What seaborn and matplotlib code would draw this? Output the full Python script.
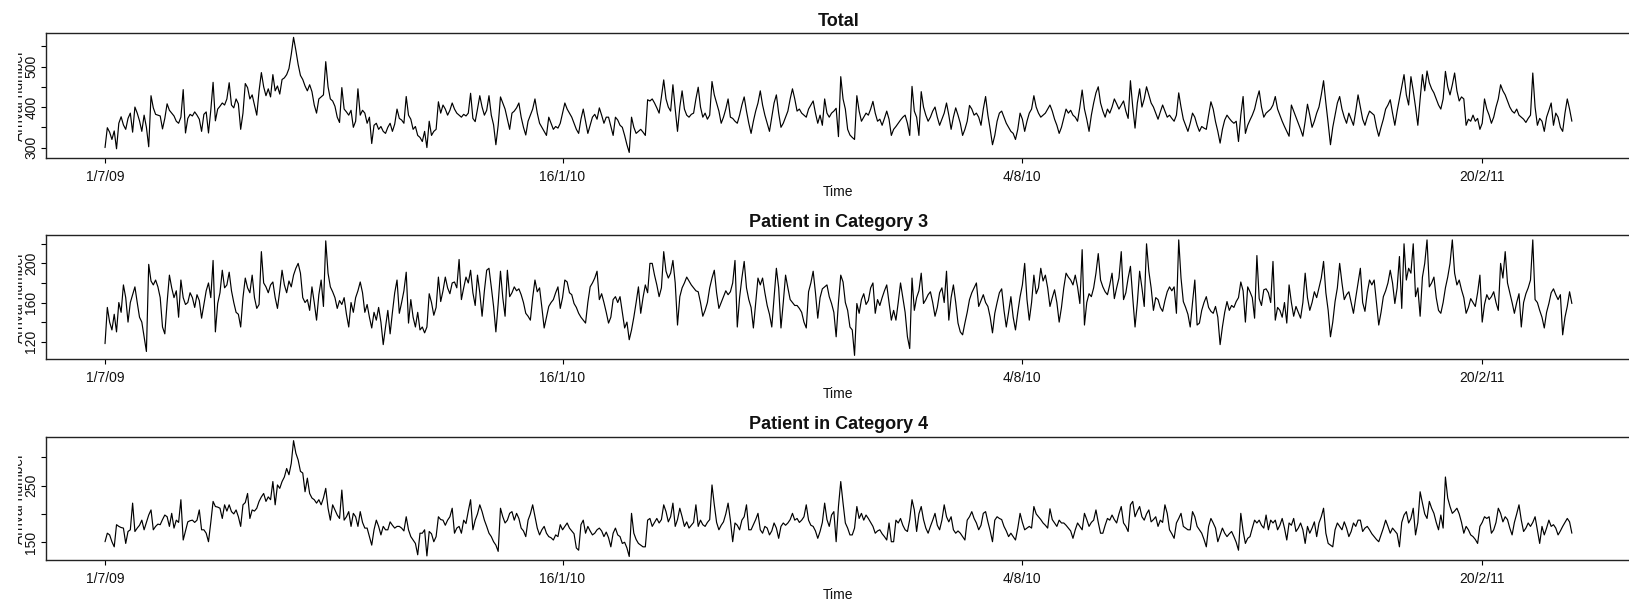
import numpy as np
import pandas as pd
import matplotlib
matplotlib.use("Agg")
import matplotlib.pyplot as plt
import matplotlib.dates as mdates
from matplotlib.transforms import Bbox, TransformedBbox
import seaborn as sns

start_date = "2009-07-01"

total = [
    300, 349, 338, 320, 341, 297, 360,
    376, 356, 345, 372, 385, 338, 400,
    385, 366, 340, 380, 350, 302, 428,
    398, 382, 380, 378, 346, 372, 408,
    392, 385, 378, 365, 360, 375, 443,
    336, 372, 382, 378, 388, 380, 370,
    340, 382, 388, 336, 392, 461, 366,
    395, 402, 410, 405, 420, 460, 405,
    398, 420, 408, 345, 385, 458, 448,
    420, 430, 405, 380, 440, 485, 450,
    428, 445, 425, 480, 440, 452, 432,
    468, 472, 480, 495, 530, 572, 540,
    505, 478, 468, 452, 440, 455, 438,
    405, 385, 420, 425, 430, 512, 450,
    420, 415, 402, 375, 362, 448, 395,
    388, 380, 392, 350, 365, 445, 380,
    392, 385, 360, 375, 310, 355, 360,
    345, 352, 340, 335, 350, 360, 340,
    358, 395, 372, 368, 360, 426, 380,
    370, 345, 352, 330, 325, 315, 340,
    300, 365, 330, 340, 345, 413, 385,
    405, 395, 380, 392, 410, 395, 385,
    380, 375, 382, 378, 385, 434, 372,
    364, 395, 428, 400, 380, 392, 428,
    380, 356, 307, 355, 425, 410, 395,
    370, 345, 385, 390, 398, 410, 375,
    350, 331, 365, 380, 395, 420, 385,
    360, 350, 340, 330, 375, 360, 345,
    352, 348, 360, 385, 410, 395, 385,
    375, 360, 345, 335, 370, 395, 365,
    335, 355, 375, 382, 370, 398, 380,
    360, 375, 375, 352, 330, 375, 368,
    355, 350, 330, 307, 288, 375, 350,
    335, 340, 345, 338, 330, 418, 415,
    420, 410, 398, 385, 425, 467, 420,
    400, 390, 455, 395, 340, 400, 440,
    395, 380, 375, 382, 385, 420, 449,
    400, 375, 385, 370, 380, 463, 430,
    410, 390, 360, 375, 395, 420, 375,
    372, 365, 360, 380, 405, 425, 390,
    360, 335, 365, 390, 410, 440, 405,
    380, 360, 340, 375, 410, 430, 385,
    350, 360, 375, 390, 420, 445, 420,
    390, 395, 385, 380, 375, 395, 405,
    415, 385, 360, 380, 355, 420, 385,
    375, 385, 390, 397, 327, 475, 420,
    395, 345, 331, 325, 320, 428, 390,
    365, 375, 385, 380, 395, 414, 385,
    365, 370, 355, 372, 390, 370, 330,
    345, 352, 360, 368, 375, 380, 360,
    330, 451, 390, 375, 330, 438, 400,
    380, 365, 375, 390, 400, 375, 355,
    370, 385, 410, 380, 345, 375, 398,
    380, 360, 330, 345, 365, 404, 395,
    380, 385, 375, 355, 395, 426, 380,
    345, 307, 330, 365, 385, 390, 375,
    360, 350, 340, 335, 320, 345, 385,
    370, 340, 365, 385, 395, 428, 400,
    385, 375, 380, 385, 395, 405, 390,
    370, 355, 335, 350, 372, 395, 385,
    392, 380, 375, 365, 400, 442, 395,
    370, 340, 380, 410, 435, 450, 410,
    390, 375, 395, 385, 400, 420, 408,
    395, 405, 415, 390, 372, 465, 400,
    348, 410, 445, 400, 420, 450, 430,
    410, 400, 385, 370, 388, 405, 390,
    375, 380, 372, 365, 380, 435, 400,
    370, 355, 340, 360, 385, 375, 355,
    340, 352, 348, 345, 380, 413, 395,
    364, 340, 311, 345, 368, 380, 372,
    365, 360, 365, 315, 380, 426, 335,
    355, 368, 380, 395, 420, 440, 400,
    375, 385, 390, 395, 405, 426, 395,
    380, 365, 352, 340, 328, 405, 390,
    375, 360, 345, 328, 365, 407, 380,
    350, 365, 385, 400, 430, 465, 410,
    360, 307, 350, 380, 410, 426, 395,
    375, 360, 385, 370, 355, 390, 430,
    400, 370, 355, 375, 390, 385, 380,
    350, 328, 350, 370, 395, 405, 418,
    385, 355, 390, 420, 450, 480, 430,
    405, 475, 440, 400, 355, 420, 480,
    440, 489, 460, 445, 435, 420, 405,
    395, 420, 488, 450, 430, 455, 484,
    440, 415, 425, 420, 355, 370, 365,
    380, 365, 372, 345, 360, 420, 395,
    380, 360, 375, 400, 420, 455, 440,
    430, 415, 400, 390, 385, 395, 380,
    375, 370, 362, 372, 380, 484, 400,
    355, 372, 365, 340, 375, 392, 410,
    355, 385, 375, 350, 340, 385, 420,
    395, 365,
]

category3 = [
    118, 155, 140, 132, 148, 130, 160,
    150, 178, 165, 140, 160, 168, 176,
    160, 145, 140, 125, 110, 199, 182,
    178, 183, 176, 165, 135, 128, 160,
    188, 175, 165, 172, 145, 183, 165,
    158, 160, 170, 165, 155, 168, 162,
    144, 158, 172, 180, 165, 203, 130,
    159, 170, 193, 175, 178, 191, 172,
    160, 150, 148, 135, 165, 185, 175,
    170, 188, 165, 154, 158, 212, 180,
    176, 170, 178, 181, 165, 154, 172,
    193, 178, 170, 182, 176, 188, 195,
    200, 190, 165, 160, 163, 152, 176,
    160, 142, 168, 183, 156, 223, 190,
    176, 171, 165, 154, 162, 158, 165,
    148, 135, 160, 150, 165, 172, 181,
    170, 150, 158, 145, 134, 150, 142,
    155, 140, 117, 135, 152, 128, 150,
    170, 183, 149, 160, 172, 191, 139,
    163, 145, 135, 150, 132, 135, 129,
    135, 169, 160, 147, 155, 186, 161,
    172, 186, 175, 169, 180, 181, 175,
    204, 163, 175, 186, 180, 193, 170,
    157, 188, 170, 146, 172, 193, 195,
    176, 156, 130, 159, 192, 165, 146,
    193, 166, 170, 176, 172, 174, 168,
    160, 149, 146, 142, 165, 183, 171,
    175, 155, 134, 145, 156, 160, 163,
    170, 176, 154, 165, 183, 181, 170,
    168, 159, 155, 149, 145, 142, 139,
    160, 176, 180, 185, 192, 163, 169,
    160, 150, 139, 145, 163, 166, 160,
    166, 150, 134, 140, 122, 132, 145,
    160, 176, 149, 165, 178, 170, 200,
    200, 188, 178, 166, 175, 212, 192,
    185, 190, 203, 180, 137, 166, 175,
    180, 186, 182, 178, 175, 172, 171,
    160, 146, 152, 160, 175, 185, 193,
    170, 154, 160, 166, 172, 168, 171,
    180, 203, 135, 165, 185, 202, 175,
    163, 155, 134, 160, 185, 178, 185,
    170, 157, 148, 135, 165, 195, 175,
    134, 160, 188, 175, 163, 160, 157,
    157, 154, 150, 140, 134, 171, 180,
    192, 170, 144, 165, 174, 176, 178,
    166, 159, 150, 125, 160, 188, 181,
    160, 152, 135, 132, 106, 159, 149,
    163, 169, 158, 162, 175, 180, 149,
    163, 157, 165, 172, 178, 160, 142,
    152, 142, 160, 180, 165, 150, 125,
    113, 185, 152, 165, 172, 190, 159,
    163, 168, 171, 160, 146, 155, 170,
    175, 160, 192, 142, 165, 178, 160,
    139, 130, 127, 139, 150, 163, 170,
    175, 180, 156, 162, 168, 160, 156,
    145, 129, 149, 160, 170, 174, 152,
    135, 150, 166, 145, 132, 150, 166,
    178, 200, 163, 142, 160, 188, 169,
    175, 195, 182, 188, 175, 156, 165,
    173, 160, 140, 155, 175, 190, 186,
    183, 178, 188, 176, 159, 214, 137,
    160, 169, 166, 175, 190, 210, 183,
    176, 171, 168, 178, 190, 164, 175,
    185, 212, 163, 170, 185, 197, 165,
    135, 160, 192, 175, 156, 220, 192,
    175, 152, 165, 163, 155, 151, 162,
    171, 176, 172, 176, 149, 224, 185,
    161, 155, 148, 135, 160, 183, 137,
    139, 152, 160, 166, 155, 151, 149,
    156, 145, 117, 135, 150, 161, 152,
    157, 155, 161, 165, 181, 172, 140,
    176, 171, 165, 144, 208, 164, 157,
    173, 174, 170, 160, 202, 142, 155,
    152, 145, 160, 139, 178, 160, 146,
    156, 150, 144, 160, 190, 165, 152,
    160, 171, 165, 175, 185, 202, 170,
    152, 125, 140, 161, 175, 200, 180,
    163, 168, 171, 160, 149, 165, 180,
    195, 160, 151, 170, 183, 178, 183,
    160, 137, 150, 166, 172, 180, 193,
    180, 159, 175, 207, 154, 220, 183,
    195, 190, 220, 166, 175, 146, 186,
    200, 224, 176, 180, 186, 165, 152,
    149, 160, 175, 186, 200, 224, 190,
    178, 183, 173, 165, 149, 155, 164,
    160, 156, 170, 188, 140, 158, 168,
    163, 166, 171, 160, 152, 200, 185,
    212, 180, 170, 160, 149, 160, 169,
    135, 160, 169, 175, 183, 224, 163,
    160, 152, 145, 134, 150, 159, 170,
    174, 168, 163, 168, 127, 145, 156,
    171, 159,
]

category4 = [
    151, 166, 163, 151, 142, 181, 178,
    176, 175, 148, 169, 172, 219, 169,
    175, 180, 189, 172, 185, 198, 207,
    172, 178, 182, 181, 190, 198, 195,
    178, 201, 175, 189, 185, 225, 154,
    170, 186, 188, 189, 185, 189, 207,
    172, 172, 166, 151, 185, 222, 213,
    212, 210, 192, 216, 205, 216, 204,
    200, 207, 195, 178, 216, 220, 236,
    192, 207, 205, 210, 222, 230, 236,
    222, 230, 225, 257, 216, 251, 245,
    257, 265, 280, 269, 289, 329, 307,
    295, 275, 272, 239, 263, 236, 228,
    225, 219, 225, 216, 228, 245, 210,
    189, 216, 207, 198, 192, 242, 189,
    195, 204, 178, 201, 195, 178, 204,
    185, 175, 175, 160, 145, 172, 189,
    178, 163, 178, 172, 172, 186, 180,
    175, 178, 178, 175, 170, 195, 172,
    160, 154, 148, 128, 166, 166, 172,
    126, 169, 165, 151, 160, 195, 190,
    189, 180, 189, 195, 210, 166, 175,
    178, 166, 189, 183, 205, 225, 172,
    189, 200, 216, 204, 189, 178, 166,
    160, 151, 145, 134, 210, 195, 184,
    189, 201, 204, 189, 201, 192, 175,
    170, 160, 189, 200, 216, 195, 175,
    163, 172, 178, 166, 160, 158, 154,
    163, 160, 181, 172, 178, 184, 175,
    170, 165, 140, 136, 181, 189, 166,
    178, 170, 163, 166, 172, 175, 170,
    160, 168, 158, 142, 166, 175, 163,
    160, 148, 150, 140, 125, 201, 166,
    155, 148, 145, 142, 142, 189, 192,
    178, 185, 192, 184, 190, 216, 204,
    186, 195, 219, 178, 190, 210, 195,
    178, 186, 175, 180, 185, 216, 178,
    189, 181, 178, 185, 190, 251, 216,
    185, 172, 180, 186, 200, 219, 189,
    151, 184, 180, 172, 189, 195, 216,
    172, 172, 181, 190, 201, 172, 166,
    178, 175, 163, 170, 184, 175, 157,
    178, 184, 180, 184, 190, 201, 189,
    192, 185, 189, 195, 216, 189, 180,
    178, 170, 157, 169, 185, 219, 190,
    178, 198, 204, 151, 213, 257, 219,
    184, 175, 163, 163, 175, 213, 192,
    201, 189, 198, 192, 185, 178, 166,
    170, 172, 165, 160, 154, 184, 151,
    151, 189, 184, 192, 180, 172, 169,
    190, 225, 207, 169, 200, 213, 190,
    175, 166, 178, 189, 201, 180, 172,
    189, 216, 195, 186, 195, 172, 166,
    170, 166, 160, 154, 189, 195, 204,
    192, 184, 172, 180, 201, 204, 186,
    170, 151, 189, 195, 192, 190, 178,
    170, 160, 166, 160, 154, 175, 201,
    185, 172, 175, 178, 175, 213, 200,
    195, 190, 184, 180, 175, 209, 190,
    184, 178, 189, 184, 184, 180, 175,
    170, 157, 172, 184, 178, 172, 201,
    190, 178, 185, 189, 207, 185, 166,
    166, 180, 192, 189, 198, 190, 184,
    200, 213, 184, 178, 169, 216, 222,
    195, 205, 213, 195, 189, 200, 207,
    186, 190, 195, 178, 189, 185, 216,
    201, 172, 165, 157, 184, 192, 201,
    178, 175, 172, 172, 204, 195, 178,
    172, 166, 155, 142, 178, 192, 184,
    175, 151, 163, 175, 166, 160, 165,
    169, 160, 150, 136, 201, 170, 148,
    157, 160, 175, 189, 184, 189, 180,
    175, 198, 172, 189, 184, 189, 172,
    180, 192, 175, 154, 184, 180, 192,
    169, 175, 184, 172, 148, 178, 166,
    175, 186, 160, 184, 195, 210, 166,
    148, 145, 142, 172, 184, 178, 172,
    186, 175, 160, 169, 184, 178, 189,
    189, 169, 175, 178, 172, 165, 160,
    155, 151, 163, 175, 189, 178, 166,
    175, 170, 165, 142, 185, 198, 204,
    184, 192, 210, 163, 185, 239, 219,
    200, 192, 222, 210, 201, 185, 172,
    198, 175, 265, 228, 213, 201, 205,
    210, 200, 185, 166, 178, 172, 163,
    160, 155, 148, 178, 185, 195, 192,
    195, 166, 172, 185, 210, 201, 186,
    195, 190, 175, 163, 185, 200, 216,
    189, 169, 175, 184, 178, 185, 195,
    172, 148, 178, 163, 175, 189, 178,
    181, 175, 163, 170, 178, 185, 192,
    186, 166,
]

titles = ["Total", "Patient in Category 3", "Patient in Category 4"]
series_list = [total, category3, category4]
xtick_dates = ["2009-07-01", "2010-01-16", "2010-08-04", "2011-02-20"]
xtick_labels = ["1/7/09", "16/1/10", "4/8/10", "20/2/11"]
ytick_values = [[300, 350, 400, 450, 500, 550],
                [120, 140, 160, 180, 200, 220],
                [150, 200, 250, 300]]
ytick_labels = [["300", "", "400", "", "500", ""],
                ["120", "", "160", "", "200", ""],
                ["150", "", "250", ""]]
y_limits = [(275, 582), (102, 229), (118.8, 336)]
x_label = "Time"
y_label = "Arrival number"

sns.set_theme(style="white")
plt.rcParams["font.family"] = ["Liberation Sans", "DejaVu Sans"]

W, H = 1629, 600
fig = plt.figure(figsize=(W / 100, H / 100), dpi=100)

left_px = 46.4
right_px = 1630.5
panel_px = [(33.3, 157.7), (235.0, 359.3), (436.7, 560.0)]

# y-label placement (clipped on its left side, as in the reference)
ylab_baseline_px = 23.5
ylab_clip_px = 17.5

t0 = pd.Timestamp(start_date)
x_min = mdates.date2num(t0 - pd.Timedelta(days=25.5))
x_max = mdates.date2num(t0 + pd.Timedelta(days=663.5))

clip_bbox = TransformedBbox(Bbox([[ylab_clip_px / W, 0.0], [1.0, 1.0]]),
                            fig.transFigure)

for i, (vals, title) in enumerate(zip(series_list, titles)):
    top, bot = panel_px[i]
    ax = fig.add_axes([left_px / W, 1 - bot / H,
                       (right_px - left_px) / W, (bot - top) / H])
    df = pd.DataFrame({
        "date": pd.date_range(start_date, periods=len(vals), freq="D"),
        "value": vals,
    })
    sns.lineplot(data=df, x="date", y="value", ax=ax, color="black",
                 linewidth=0.85, estimator=None)
    ax.set_xlim(x_min, x_max)
    ax.set_ylim(*y_limits[i])
    ax.set_xticks([mdates.date2num(pd.Timestamp(d)) for d in xtick_dates])
    ax.set_xticklabels(xtick_labels)
    ax.set_yticks(ytick_values[i])
    ax.set_yticklabels(ytick_labels[i], rotation=90, va="center")
    ax.tick_params(axis="both", direction="out", length=3.3, width=0.8,
                   color="black", labelsize=10, labelcolor="#111111",
                   left=True, bottom=True)
    ax.tick_params(axis="x", pad=5.2)
    ax.tick_params(axis="y", pad=2.5)
    for s in ax.spines.values():
        s.set_visible(True)
        s.set_color("#222222")
        s.set_linewidth(1.0)
    ax.set_title(title, fontsize=13, fontweight="bold", pad=5.5, color="#111111")
    ax.set_xlabel(x_label, fontsize=10, labelpad=1.3, color="#111111")
    ax.set_ylabel("")
    ax.grid(False)

    yc = 1 - (top + bot) / 2 / H
    t = fig.text(ylab_baseline_px / W, yc, y_label, rotation=90,
                 rotation_mode="anchor", ha="center", va="baseline",
                 fontsize=10, color="#111111")
    t.set_clip_box(clip_bbox)
    t.set_clip_on(True)

fig.savefig("out.png", dpi=100, facecolor="white")
